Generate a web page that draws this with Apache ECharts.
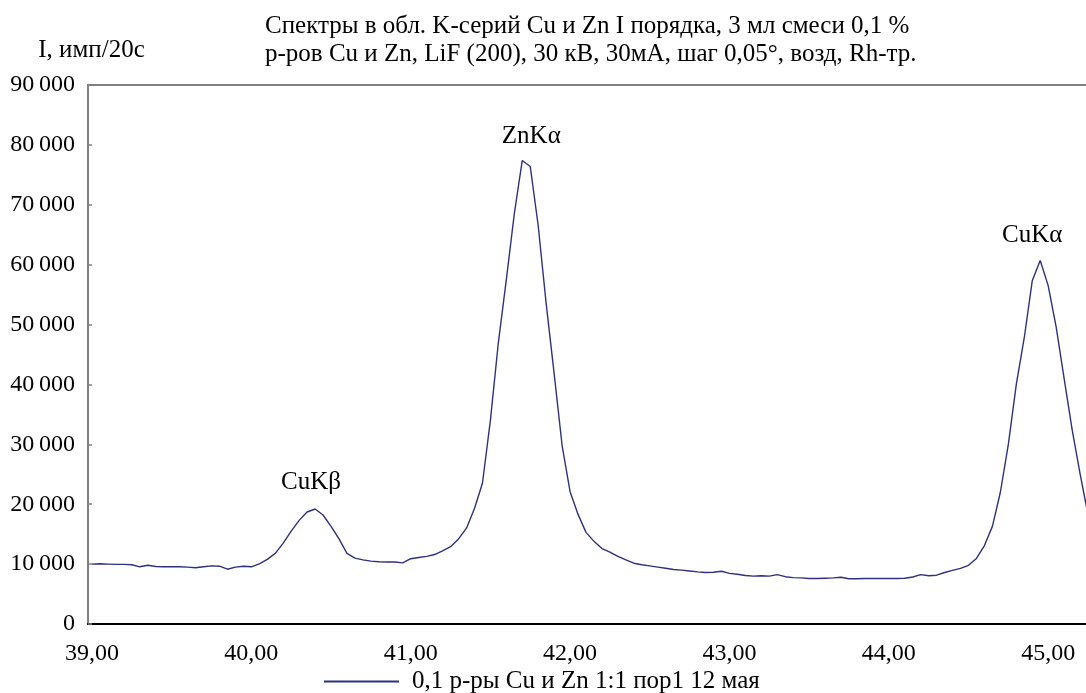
<!DOCTYPE html>
<html>
<head>
<meta charset="utf-8">
<title>Спектры в обл. K-серий Cu и Zn</title>
<script src="https://cdn.jsdelivr.net/npm/echarts@6/dist/echarts.min.js"></script>
<style>
  html, body { margin: 0; padding: 0; background: #fff; }
  #chart { width: 1086px; height: 693px; }
</style>
</head>
<body>
<div id="chart"></div>
<script>
// scan start and step (2θ, degrees), as written in the title: шаг 0,05
const START_ANGLE = 39.0
const STEP = 0.05

// I, imp/20s, one value per step from 39,00 to 45,25
const intensity = [
  10000, 10050, 10000, 9950, 9950, 9900, 9550, 9800, 9600, 9550,
  9550, 9550, 9500, 9400, 9550, 9700, 9650, 9150, 9500, 9650,
  9550, 10050, 10800, 11800, 13500, 15500, 17300, 18700, 19200, 18200,
  16300, 14200, 11800, 11000, 10700, 10500, 10400, 10350, 10350, 10200,
  10900, 11100, 11300, 11600, 12200, 12900, 14200, 16000, 19300, 23500,
  34000, 47000, 57500, 68500, 77400, 76400, 66500, 53500, 41800, 29800,
  22100, 18300, 15300, 13800, 12600, 12000, 11300, 10700, 10150, 9900,
  9700, 9500, 9300, 9100, 9000, 8850, 8700, 8600, 8650, 8800,
  8450, 8300, 8100, 8000, 8050, 8000, 8250, 7900, 7750, 7700,
  7600, 7600, 7650, 7700, 7800, 7550, 7550, 7600, 7600, 7600,
  7600, 7600, 7650, 7850, 8250, 8050, 8150, 8600, 8950, 9300,
  9800, 10950, 13100, 16300, 22000, 30000, 40000, 47800, 57300, 60700,
  56500, 49600, 41000, 32500, 25100, 18200,
]

const angles = intensity.map((_, i) => (START_ANGLE + i * STEP).toFixed(2).replace('.', ','))

// peak annotations: [index into angles, text]
const peaks = [
  [28, 'CuKβ'],
  [54, 'ZnKα'],
  [119, 'CuKα'],
]
const peakOffsets = [[-4, -27], [9, -24], [-8, -25]]

const yTicks = { min: 0, max: 90000, interval: 10000 }

const seriesName = '0,1 р-ры Cu и Zn 1:1 пор1 12 мая'
const titleText = 'Спектры в обл. K-серий Cu и Zn I порядка, 3 мл смеси 0,1 %\nр-ров Cu и Zn, LiF (200), 30 кВ, 30мА, шаг 0,05°, возд, Rh-тр.'

const FONT = '"Liberation Serif", "DejaVu Serif", serif'
const LINE_COLOR = '#2e3180'

const fmtThousands = (v) => {
  if (v === 0) return '0'
  const s = String(v)
  return s.slice(0, s.length - 3) + '\u2009' + s.slice(-3)
}

const buildOption = () => ({
  animation: false,
  backgroundColor: '#fff',
  textStyle: { fontFamily: FONT, color: '#000' },
  title: {
    text: titleText,
    left: 265,
    top: 12,
    padding: 0,
    textStyle: { fontFamily: FONT, fontSize: 25, fontWeight: 'normal', color: '#000', lineHeight: 28 },
  },
  legend: {
    left: 324,
    top: 669,
    padding: 0,
    icon: 'rect',
    itemWidth: 75,
    itemHeight: 2,
    textStyle: { fontFamily: FONT, fontSize: 25, color: '#000', padding: [0, 0, 0, 8] },
    data: [seriesName],
  },
  grid: {
    left: 88,
    top: 85,
    bottom: 69,
    width: 1004,
    outerBoundsMode: 'none',
    show: true,
    borderColor: '#808080',
    borderWidth: 2,
  },
  xAxis: {
    type: 'category',
    data: angles,
    boundaryGap: true,
    axisLine: { lineStyle: { color: '#000', width: 2 } },
    axisTick: { inside: true, length: 5, interval: 19, alignWithLabel: true, lineStyle: { color: '#000', width: 1.5 } },
    axisLabel: { interval: 19, fontFamily: FONT, fontSize: 24, color: '#000', margin: 18 },
    splitLine: { show: false },
  },
  yAxis: {
    type: 'value',
    min: yTicks.min,
    max: yTicks.max,
    interval: yTicks.interval,
    name: 'I, имп/20с',
    nameLocation: 'end',
    nameGap: 22,
    nameTextStyle: { fontFamily: FONT, fontSize: 25, color: '#000', align: 'center', padding: [0, 0, 0, 7] },
    axisLine: { show: true, lineStyle: { color: '#808080', width: 2 } },
    axisTick: { show: true, inside: true, length: 4, lineStyle: { color: '#808080', width: 1.5 } },
    axisLabel: { fontFamily: FONT, fontSize: 24, color: '#000', margin: 13, formatter: fmtThousands },
    splitLine: { show: false },
  },
  series: [
    {
      name: seriesName,
      type: 'line',
      data: intensity,
      symbol: 'none',
      color: LINE_COLOR,
      lineStyle: { color: LINE_COLOR, width: 1.4 },
      markPoint: {
        symbol: 'circle',
        symbolSize: 0,
        silent: true,
        data: peaks.map(([i, text], k) => ({
          name: text,
          coord: [angles[i], intensity[i]],
          label: {
            show: true,
            position: 'inside',
            offset: peakOffsets[k],
            formatter: text,
            fontFamily: FONT,
            fontSize: 25,
            color: '#000',
          },
        })),
      },
    },
  ],
})

const chart = echarts.init(document.getElementById('chart'))
chart.setOption(buildOption())
</script>
</body>
</html>
